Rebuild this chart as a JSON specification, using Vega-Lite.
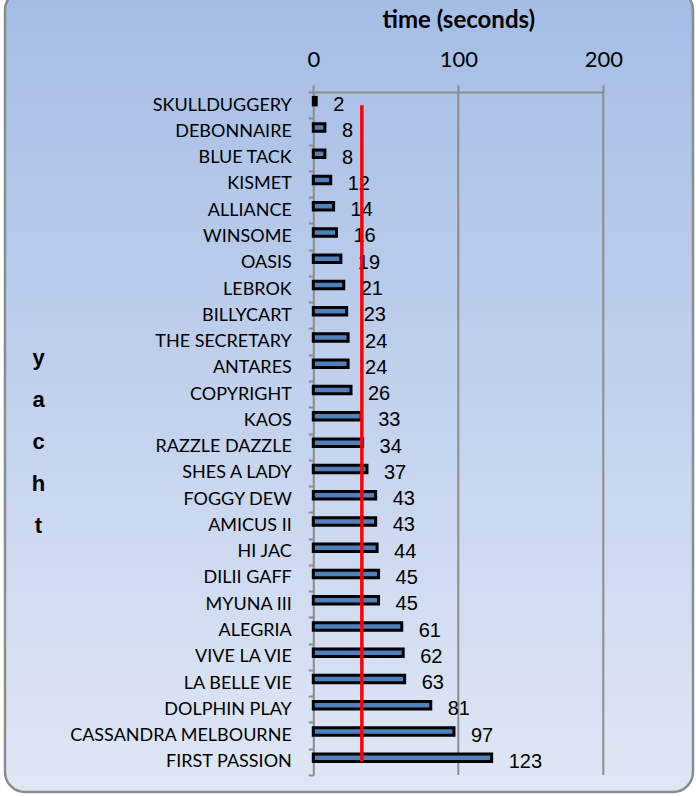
{
  "$schema": "https://vega.github.io/schema/vega-lite/v6.json",
  "width": 688,
  "height": 802,
  "autosize": {"type": "none"},
  "padding": {"left": 5, "right": 3, "top": -10, "bottom": 4},
  "background": "white",
  "config": {
    "view": {
      "fill": {"gradient": "linear", "x1": 0, "y1": 0, "x2": 0, "y2": 1,
        "stops": [{"offset": 0, "color": "#A4BCE5"}, {"offset": 1, "color": "#DFE7F5"}]},
      "stroke": "#8C8C8C",
      "strokeWidth": 2.5,
      "cornerRadius": 20
    }
  },
  "datasets": {
    "boats": [
      {"yacht": "SKULLDUGGERY", "time": 2},
      {"yacht": "DEBONNAIRE", "time": 8},
      {"yacht": "BLUE TACK", "time": 8},
      {"yacht": "KISMET", "time": 12},
      {"yacht": "ALLIANCE", "time": 14},
      {"yacht": "WINSOME", "time": 16},
      {"yacht": "OASIS", "time": 19},
      {"yacht": "LEBROK", "time": 21},
      {"yacht": "BILLYCART", "time": 23},
      {"yacht": "THE SECRETARY", "time": 24},
      {"yacht": "ANTARES", "time": 24},
      {"yacht": "COPYRIGHT", "time": 26},
      {"yacht": "KAOS", "time": 33},
      {"yacht": "RAZZLE DAZZLE", "time": 34},
      {"yacht": "SHES A LADY", "time": 37},
      {"yacht": "FOGGY DEW", "time": 43},
      {"yacht": "AMICUS II", "time": 43},
      {"yacht": "HI JAC", "time": 44},
      {"yacht": "DILII GAFF", "time": 45},
      {"yacht": "MYUNA III", "time": 45},
      {"yacht": "ALEGRIA", "time": 61},
      {"yacht": "VIVE LA VIE", "time": 62},
      {"yacht": "LA BELLE VIE", "time": 63},
      {"yacht": "DOLPHIN PLAY", "time": 81},
      {"yacht": "CASSANDRA MELBOURNE", "time": 97},
      {"yacht": "FIRST PASSION", "time": 123}
    ]
  },
  "layer": [
    {
      "data": {"values": [{"time": 100}, {"time": 200}]},
      "mark": {"type": "rule", "color": "#8C8C8C", "strokeWidth": 2},
      "encoding": {
        "x": {"field": "time", "type": "quantitative"},
        "y": {"datum": "SKULLDUGGERY", "type": "nominal", "bandPosition": 0},
        "y2": {"datum": "FIRST PASSION", "bandPosition": 1}
      }
    },
    {
      "data": {"name": "boats"},
      "mark": {"type": "bar", "size": 7.5, "fill": "#4F81BD", "stroke": "#000000", "strokeWidth": 3, "yOffset": -4},
      "encoding": {
        "y": {
          "field": "yacht", "type": "nominal",
          "scale": {
            "domain": ["SKULLDUGGERY", "DEBONNAIRE", "BLUE TACK", "KISMET", "ALLIANCE", "WINSOME", "OASIS", "LEBROK", "BILLYCART", "THE SECRETARY", "ANTARES", "COPYRIGHT", "KAOS", "RAZZLE DAZZLE", "SHES A LADY", "FOGGY DEW", "AMICUS II", "HI JAC", "DILII GAFF", "MYUNA III", "ALEGRIA", "VIVE LA VIE", "LA BELLE VIE", "DOLPHIN PLAY", "CASSANDRA MELBOURNE", "FIRST PASSION"],
            "range": [102, 785], "paddingInner": 0, "paddingOuter": 0
          },
          "axis": {
            "orient": "left", "offset": -308.3, "domain": true, "domainColor": "#8C8C8C", "domainWidth": 2, "grid": false,
            "tickBand": "extent", "tickSize": 5, "tickWidth": 2, "tickColor": "#8C8C8C",
            "labelFont": "Lato", "labelFontSize": 18, "labelColor": "#000000", "labelPadding": 17, "labelLimit": 400,
            "title": ["y", "a", "c", "h", "t"], "titleAngle": 0,
            "titleFont": "Liberation Sans", "titleFontWeight": "bold", "titleFontSize": 22,
            "titleLineHeight": 42, "titleAlign": "center", "titleBaseline": "middle",
            "titleX": -275.3, "titleY": 367, "titleColor": "#000000"
          }
        },
        "x": {
          "field": "time", "type": "quantitative",
          "scale": {"domain": [0, 200], "range": [308.3, 598.3], "nice": false},
          "axis": {
            "orient": "top", "offset": -102, "values": [0, 100, 200], "domain": true, "domainColor": "#8C8C8C", "domainWidth": 2, "grid": false,
            "tickSize": 7, "tickWidth": 2, "tickColor": "#8C8C8C",
            "labelFont": "Lato", "labelFontSize": 22, "labelColor": "#000000", "labelPadding": 19,
            "labelBaseline": "alphabetic", "labelFlush": false, "labelAlign": "center",
            "title": "time (seconds)", "titleFont": "Lato", "titleFontSize": 24, "titleFontWeight": "bold",
            "titleColor": "#000000", "titleX": 453.3, "titleY": -64.5, "titleBaseline": "alphabetic", "titleAlign": "center"
          }
        }
      }
    },
    {
      "data": {"name": "boats"},
      "mark": {"type": "text", "align": "left", "baseline": "middle", "dx": 17, "font": "Liberation Sans", "fontSize": 20, "color": "#000000"},
      "encoding": {
        "y": {"field": "yacht", "type": "nominal"},
        "x": {"field": "time", "type": "quantitative"},
        "text": {"field": "time", "type": "quantitative"}
      }
    },
    {
      "data": {"name": "boats"},
      "transform": [{"aggregate": [{"op": "median", "field": "time", "as": "time"}]}],
      "mark": {"type": "rule", "color": "#FF0000", "strokeWidth": 3.5},
      "encoding": {
        "x": {"field": "time", "type": "quantitative"},
        "y": {"datum": "SKULLDUGGERY", "type": "nominal"},
        "y2": {"datum": "FIRST PASSION"}
      }
    }
  ]
}
